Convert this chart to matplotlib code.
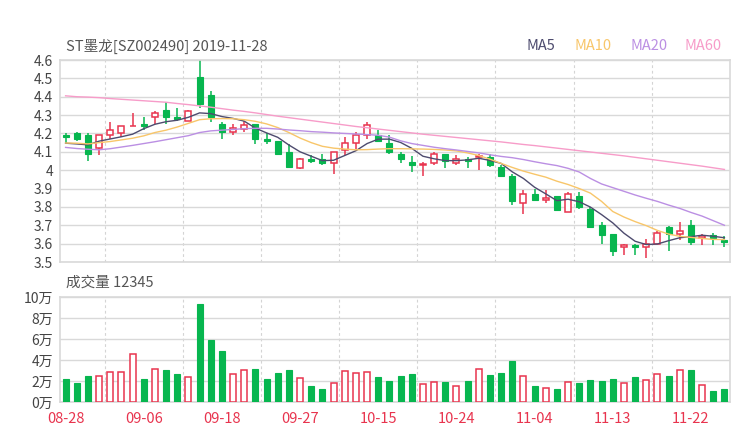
import numpy as np
import matplotlib
matplotlib.use("Agg")
import matplotlib.pyplot as plt

plt.rcParams['font.family'] = ['Noto Sans CJK SC', 'DejaVu Sans']

# K线数据 (开, 高, 低, 收)
opens = [4.19, 4.20, 4.19, 4.12, 4.19, 4.20, 4.24, 4.25, 4.29, 4.33,
         4.29, 4.27, 4.51, 4.41, 4.25, 4.21, 4.225, 4.25, 4.17, 4.16,
         4.10, 4.01, 4.06, 4.06, 4.04, 4.11, 4.15, 4.19, 4.19, 4.15,
         4.09, 4.045, 4.03, 4.04, 4.09, 4.04, 4.06, 4.07, 4.07, 4.02,
         3.97, 3.82, 3.87, 3.84, 3.86, 3.77, 3.86, 3.79, 3.70, 3.65,
         3.58, 3.59, 3.58, 3.60, 3.69, 3.65, 3.70, 3.63, 3.645, 3.62]
highs = [4.20, 4.21, 4.20, 4.19, 4.26, 4.24, 4.31, 4.29, 4.32, 4.37,
         4.34, 4.33, 4.60, 4.43, 4.26, 4.25, 4.27, 4.25, 4.20, 4.16,
         4.14, 4.065, 4.085, 4.09, 4.10, 4.18, 4.21, 4.26, 4.22, 4.19,
         4.10, 4.075, 4.045, 4.10, 4.09, 4.08, 4.07, 4.09, 4.09, 4.03,
         3.98, 3.89, 3.90, 3.89, 3.86, 3.88, 3.88, 3.80, 3.72, 3.65,
         3.60, 3.60, 3.625, 3.67, 3.695, 3.72, 3.73, 3.65, 3.66, 3.64]
lows = [4.15, 4.16, 4.05, 4.08, 4.17, 4.18, 4.24, 4.22, 4.25, 4.25,
        4.27, 4.27, 4.34, 4.26, 4.17, 4.19, 4.21, 4.14, 4.14, 4.08,
        4.02, 4.005, 4.04, 4.03, 3.98, 4.08, 4.115, 4.17, 4.16, 4.09,
        4.04, 3.99, 3.97, 4.03, 4.01, 4.03, 4.01, 4.00, 4.02, 3.965,
        3.81, 3.76, 3.83, 3.82, 3.78, 3.77, 3.79, 3.69, 3.60, 3.53,
        3.54, 3.54, 3.52, 3.60, 3.56, 3.62, 3.59, 3.59, 3.59, 3.58]
closes = [4.18, 4.17, 4.09, 4.19, 4.22, 4.24, 4.24, 4.24, 4.31, 4.29,
          4.28, 4.32, 4.36, 4.29, 4.21, 4.23, 4.245, 4.17, 4.16, 4.09,
          4.02, 4.06, 4.05, 4.04, 4.10, 4.15, 4.19, 4.245, 4.16, 4.10,
          4.06, 4.03, 4.03, 4.09, 4.05, 4.06, 4.05, 4.075, 4.03, 3.97,
          3.83, 3.87, 3.835, 3.85, 3.785, 3.87, 3.80, 3.69, 3.645, 3.56,
          3.59, 3.58, 3.60, 3.66, 3.65, 3.67, 3.61, 3.64, 3.63, 3.61]

# 均线
ma5 = [4.147, 4.143, 4.138, 4.158, 4.170, 4.182, 4.196, 4.226, 4.250, 4.264,
       4.272, 4.288, 4.312, 4.308, 4.292, 4.282, 4.267, 4.229, 4.203, 4.179,
       4.137, 4.100, 4.076, 4.052, 4.054, 4.080, 4.106, 4.145, 4.169, 4.169,
       4.151, 4.119, 4.076, 4.062, 4.052, 4.052, 4.056, 4.065, 4.053, 4.037,
       3.991, 3.955, 3.907, 3.871, 3.834, 3.842, 3.828, 3.799, 3.758, 3.713,
       3.657, 3.613, 3.595, 3.598, 3.616, 3.632, 3.638, 3.646, 3.640, 3.632]
ma10 = [4.148, 4.147, 4.143, 4.150, 4.156, 4.165, 4.174, 4.187, 4.205, 4.218,
        4.235, 4.255, 4.275, 4.280, 4.281, 4.280, 4.275, 4.266, 4.252, 4.232,
        4.205, 4.175, 4.150, 4.130, 4.120, 4.115, 4.111, 4.112, 4.115, 4.117,
        4.117, 4.116, 4.115, 4.113, 4.110, 4.105, 4.094, 4.080, 4.060, 4.037,
        4.015, 3.995, 3.978, 3.962, 3.940, 3.922, 3.900, 3.875, 3.830, 3.775,
        3.745, 3.720, 3.698, 3.672, 3.652, 3.640, 3.634, 3.628, 3.623, 3.622]
ma20 = [4.124, 4.118, 4.114, 4.111, 4.117, 4.126, 4.135, 4.145, 4.155, 4.166,
        4.177, 4.188, 4.205, 4.214, 4.218, 4.222, 4.226, 4.228, 4.228, 4.224,
        4.219, 4.215, 4.210, 4.207, 4.203, 4.200, 4.197, 4.194, 4.190, 4.180,
        4.160, 4.145, 4.135, 4.125, 4.117, 4.110, 4.102, 4.094, 4.084, 4.075,
        4.068, 4.058, 4.046, 4.035, 4.025, 4.010, 3.990, 3.955, 3.925, 3.905,
        3.885, 3.865, 3.847, 3.830, 3.810, 3.792, 3.770, 3.750, 3.725, 3.700]
ma60 = [4.405, 4.400, 4.398, 4.395, 4.390, 4.386, 4.382, 4.378, 4.374, 4.370,
        4.363, 4.357, 4.350, 4.343, 4.335, 4.327, 4.320, 4.312, 4.303, 4.294,
        4.286, 4.278, 4.270, 4.262, 4.254, 4.246, 4.238, 4.231, 4.224, 4.217,
        4.210, 4.203, 4.196, 4.190, 4.184, 4.178, 4.172, 4.166, 4.160, 4.154,
        4.147, 4.140, 4.134, 4.127, 4.120, 4.113, 4.106, 4.099, 4.092, 4.085,
        4.078, 4.070, 4.062, 4.054, 4.046, 4.038, 4.030, 4.022, 4.013, 4.004]

# 成交量 (万)
volumes = [2.17, 1.85, 2.52, 2.48, 2.83, 2.83, 4.59, 2.20, 3.12, 3.03,
           2.68, 2.36, 9.30, 5.86, 4.81, 2.68, 3.06, 3.12, 2.20, 2.74,
           3.03, 2.26, 1.50, 1.27, 1.78, 2.93, 2.74, 2.87, 2.39, 2.00,
           2.48, 2.64, 1.72, 1.91, 1.88, 1.56, 1.97, 3.18, 2.58, 2.74,
           3.95, 2.45, 1.50, 1.30, 1.24, 1.91, 1.78, 2.10, 2.00, 2.23,
           1.85, 2.36, 2.07, 2.68, 2.45, 3.09, 3.06, 1.66, 1.05, 1.24]

date_labels = ['08-28', '09-06', '09-18', '09-27', '10-15', '10-24', '11-04', '11-13', '11-22']
date_pos = [0, 7, 14, 21, 28, 35, 42, 49, 56]
price_ticks = [3.5, 3.6, 3.7, 3.8, 3.9, 4.0, 4.1, 4.2, 4.3, 4.4, 4.5, 4.6]
vol_ticks = [0, 2, 4, 6, 8, 10]

RED = '#e8344e'
GREEN = '#07b64f'
GRID = '#d9d9d9'
TXT = '#444444'

x = np.arange(len(closes))
o = np.array(opens)
c = np.array(closes)
up = c >= o

fig = plt.figure(figsize=(7.4, 4.4), dpi=100)
ax = fig.add_axes([60/740, 1-262/440, 670/740, 202/440])
axv = fig.add_axes([60/740, 1-402/440, 670/740, 105/440])

# 网格
for a in (ax, axv):
    for xv in [3.5, 10.5, 17.5, 24.5, 31.5, 38.5, 45.5, 52.5]:
        a.axvline(xv, color='#d4d4d4', lw=0.8, ls=(0, (2.5, 2.5)), zorder=0)
    for s in a.spines.values():
        s.set_color(GRID)
        s.set_linewidth(1.2)
    a.tick_params(length=0, colors=TXT, labelsize=10, pad=5)
    a.set_xlim(-0.5, len(closes) - 0.5)

for yv in price_ticks:
    ax.axhline(yv, color=GRID, lw=1.0, zorder=0)
for yv in vol_ticks:
    axv.axhline(yv, color=GRID, lw=1.0, zorder=0)

# 影线 + 实体
w = 0.55
cols = np.where(up, RED, GREEN)
ax.vlines(x, lows, highs, colors=cols, lw=1.1, zorder=2)
bottoms = np.minimum(o, c)
heights = np.maximum(np.abs(c - o), 0.003)
ax.bar(x[up], heights[up], w, bottom=bottoms[up], facecolor='white',
       edgecolor=RED, linewidth=1.1, zorder=3)
ax.bar(x[~up], heights[~up], w, bottom=bottoms[~up], facecolor=GREEN,
       edgecolor=GREEN, linewidth=0.8, zorder=3)

ax.plot(x, ma5, color='#4d4b6e', lw=1.0, zorder=4)
ax.plot(x, ma10, color='#f8c66a', lw=1.0, zorder=4)
ax.plot(x, ma20, color='#bb8fe3', lw=1.0, zorder=4)
ax.plot(x, ma60, color='#f79cc9', lw=1.0, zorder=4)

ax.set_ylim(3.5, 4.6)
ax.set_yticks(price_ticks)
ax.set_yticklabels([f"{v:g}" for v in price_ticks])
ax.set_xticks([])

# 成交量
vols = np.array(volumes)
axv.bar(x[up], vols[up], w, facecolor='white', edgecolor=RED, linewidth=1.1, zorder=3)
axv.bar(x[~up], vols[~up], w, facecolor=GREEN, edgecolor=GREEN, linewidth=0.8, zorder=3)
axv.set_ylim(0, 10)
axv.set_yticks(vol_ticks)
axv.set_yticklabels([f"{v}万" for v in vol_ticks])
axv.set_xticks(date_pos)
axv.set_xticklabels(date_labels, color=RED, fontsize=10.5)
axv.tick_params(axis='x', pad=7)

# 文字
fig.text(66/740, 1-46/440, 'ST墨龙[SZ002490] 2019-11-28', fontsize=10.5, color='#555555', va='center')
fig.text(66/740, 1-283/440, '成交量 12345', fontsize=10.5, color='#555555', va='center')
for label, xp, col in [('MA5', 527, '#4d4b6e'), ('MA10', 575, '#f8c66a'),
                       ('MA20', 630, '#bb8fe3'), ('MA60', 684, '#f79cc9')]:
    fig.text(xp/740, 1-46/440, label, fontsize=10.5, color=col, va='center')

fig.savefig('out.png', dpi=100)
